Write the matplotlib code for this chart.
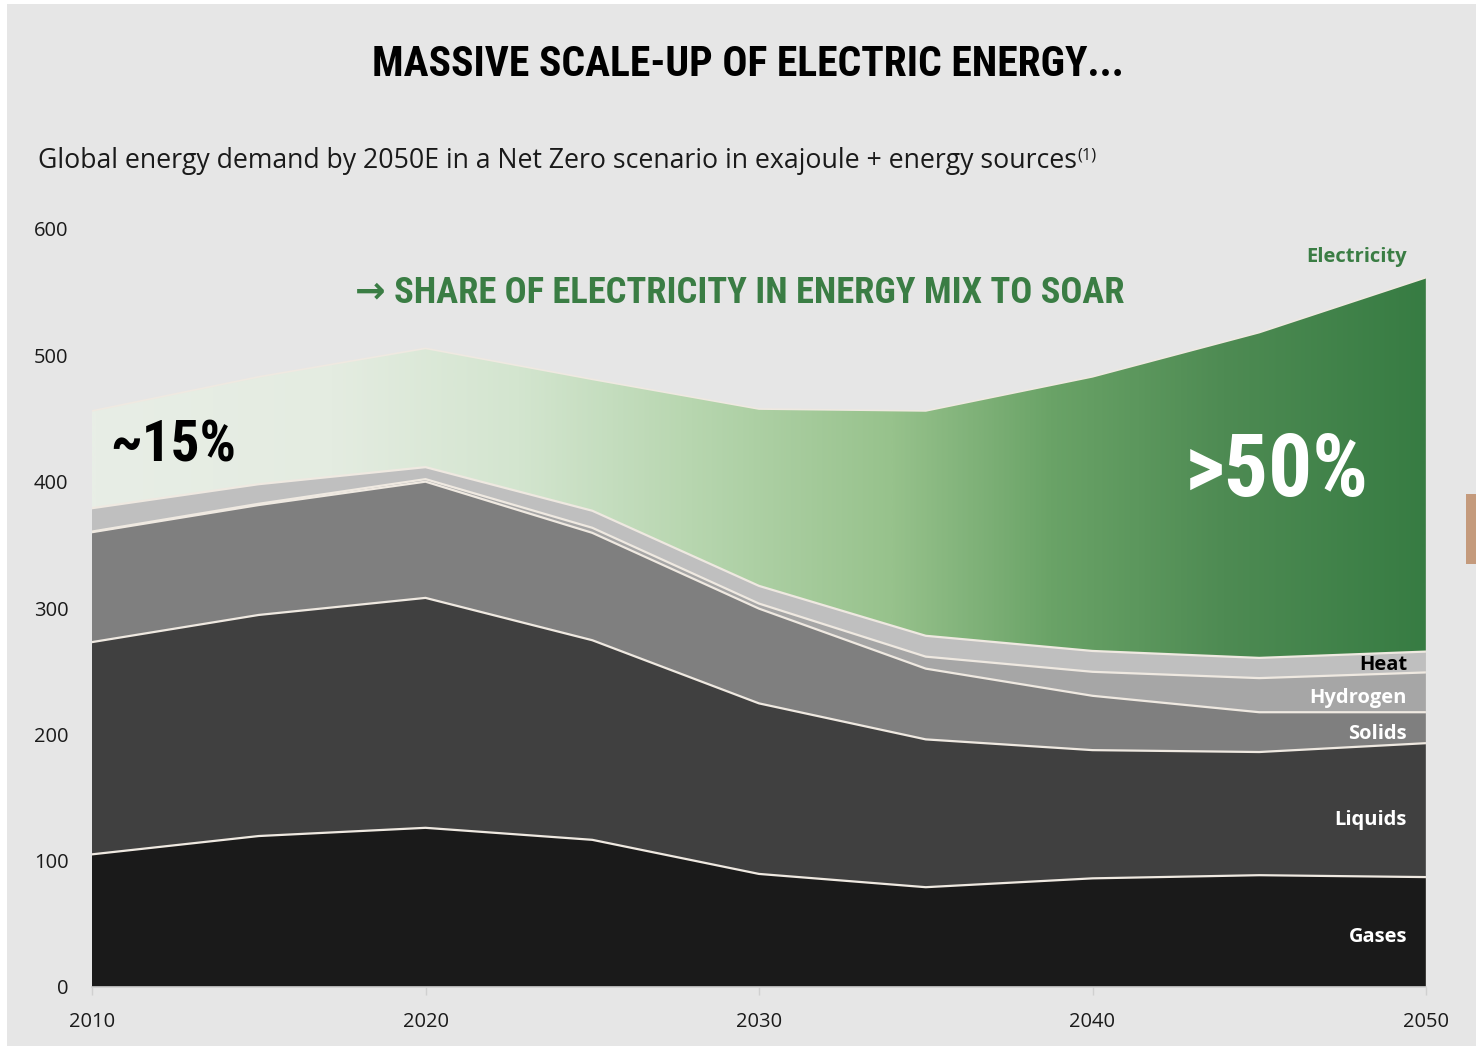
import numpy as np
import matplotlib
matplotlib.use("Agg")
import matplotlib.pyplot as plt
from matplotlib import font_manager as fm
from matplotlib.colors import LinearSegmentedColormap
from matplotlib.patches import Rectangle

# ---------------- data (exajoule) ----------------
years = [2010, 2015, 2020, 2025, 2030, 2035, 2040, 2045, 2050]
gases = [105, 119.5, 126, 116.5, 89.5, 79, 86, 88.5, 87]
liquids = [168, 175, 182, 158, 135, 117, 101.5, 97.5, 106]
solids = [87, 87, 92, 85, 75, 56, 43, 31.5, 24.5]
hydrogen = [0.5, 1, 2, 4, 4, 9.5, 19, 27, 31.5]
heat = [18.5, 15.5, 9.5, 13.5, 14, 16.5, 16.5, 16, 16.5]
electricity = [77, 85, 94, 104, 140, 178, 217, 257.5, 296]

series_names = ["Gases", "Liquids", "Solids", "Hydrogen", "Heat"]
series_values = [gases, liquids, solids, hydrogen, heat]
series_colors = ["#1a1a1a", "#404040", "#7f7f7f", "#a6a6a6", "#bfbfbf"]
label_colors = ["white", "white", "white", "white", "black"]

yticks = [0, 100, 200, 300, 400, 500, 600]
xticks = [2010, 2020, 2030, 2040, 2050]

title = "MASSIVE SCALE-UP OF ELECTRIC ENERGY..."
subtitle = "Global energy demand by 2050E in a Net Zero scenario in exajoule + energy sources"
headline = "\u2192 SHARE OF ELECTRICITY IN ENERGY MIX TO SOAR"

# ---------------- fonts ----------------
available = {f.name for f in fm.fontManager.ttflist}
def pick(cands, default="DejaVu Sans"):
    for c in cands:
        if c in available:
            return c
    return default

narrow = pick(["Liberation Sans Narrow", "DejaVu Sans Condensed", "Roboto Condensed", "Open Sans Condensed"], "DejaVu Sans")
body = pick(["Open Sans", "Noto Sans", "Lato", "DejaVu Sans"])

BG = "#e6e6e6"
GREEN = "#3a7d44"
SEP = "#efe9e1"

fig = plt.figure(figsize=(14.76, 10.49), dpi=100)
fig.patch.set_facecolor("white")
# light grey slide panel
fig.add_artist(Rectangle((7 / 1476, 1 - 1046 / 1049), (1476 - 7) / 1476, (1046 - 4) / 1049,
                         transform=fig.transFigure, facecolor=BG, edgecolor="none", zorder=0))
# copper side marker
fig.add_artist(Rectangle((1466 / 1476, 1 - 564 / 1049), 10 / 1476, 70 / 1049,
                         transform=fig.transFigure, facecolor="#c49a7c", edgecolor="none", zorder=1))

ax = fig.add_axes([92 / 1476, 1 - 987 / 1049, 1334 / 1476, 758 / 1049])
ax.set_facecolor("none")
ax.set_xlim(2010, 2050)
ax.set_ylim(0, 600)

x = np.array(years, dtype=float)
base = np.zeros_like(x)
tops = []
for name, vals, col in zip(series_names, series_values, series_colors):
    top = base + np.array(vals, dtype=float)
    ax.fill_between(x, base, top, facecolor=col, edgecolor="none", zorder=2)
    tops.append(top)
    base = top

# electricity area with horizontal gradient
elec_top = base + np.array(electricity, dtype=float)
poly = ax.fill_between(x, base, elec_top, facecolor="none", edgecolor="none", zorder=2)
cmap = LinearSegmentedColormap.from_list("elec", [
    (0.0, "#e8eee6"), (0.18, "#e4ece1"), (0.32, "#d3e5cf"), (0.45, "#b7d6af"),
    (0.6, "#97c28c"), (0.72, "#6aa367"), (0.85, "#4e8b53"), (1.0, "#377c43")])
grad = np.linspace(0, 1, 512).reshape(1, -1)
im = ax.imshow(grad, cmap=cmap, aspect="auto", extent=(2010, 2050, 0, 600),
               origin="lower", zorder=2, interpolation="bilinear")
im.set_clip_path(poly.get_paths()[0], transform=ax.transData)

# separator lines
for top in tops:
    ax.plot(x, top, color=SEP, lw=1.6, zorder=3, solid_joinstyle="miter")
ax.plot(x, elec_top, color=SEP, lw=1.2, zorder=3)
ax.plot([2050, 2050], [0, elec_top[-1]], color="#d8d2cc", lw=1.0, zorder=3)

# axes styling
for s in ["top", "right", "left"]:
    ax.spines[s].set_visible(False)
ax.spines["bottom"].set_color("#d0d0d0")
ax.spines["bottom"].set_linewidth(1.2)
ax.spines["bottom"].set_zorder(4)
ax.set_xticks(xticks)
ax.set_yticks(yticks)
ax.tick_params(axis="x", length=5.5, width=1.0, color="#d0d0d0", pad=12.5, labelsize=14.5, labelcolor="#1a1a1a")
ax.tick_params(axis="y", length=0, pad=17, labelsize=14.5, labelcolor="#1a1a1a")
for lab in ax.get_xticklabels() + ax.get_yticklabels():
    lab.set_fontfamily(body)

# series labels at right edge
label_y = [937, 820, 734, 698, 665]
for name, col, py in zip(series_names, label_colors, label_y):
    fig.text(1407 / 1476, 1 - py / 1049, name, ha="right", va="center",
             fontsize=14.5, fontweight="bold", color=col, family=body, zorder=5)
fig.text(1407 / 1476, 1 - 257 / 1049, "Electricity", ha="right", va="center",
         fontsize=14.5, fontweight="bold", color=GREEN, family=body, zorder=5)

# big percentages
fig.text(110 / 1476, 1 - 446 / 1049, "~15%", ha="left", va="center", fontsize=41,
         fontweight="bold", color="black", family=narrow, zorder=5)
fig.text(1185 / 1476, 1 - 472 / 1049, ">50%", ha="left", va="center", fontsize=63,
         fontweight="bold", color="white", family=narrow, zorder=5)

# headline
fig.text(740 / 1476, 1 - 293 / 1049, headline, ha="center", va="center", fontsize=26.3,
         fontweight="bold", color=GREEN, family=[narrow, "DejaVu Sans"], zorder=5)

# title and subtitle
fig.text(748 / 1476, 1 - 64 / 1049, title, ha="center", va="center", fontsize=30,
         fontweight="bold", color="black", family=narrow, zorder=5)
st = fig.text(38 / 1476, 1 - 161 / 1049, subtitle, ha="left", va="center", fontsize=19.2,
              color="#1a1a1a", family=body, zorder=5)
ax.annotate("(1)", xy=(1, 1), xycoords=st, xytext=(0.5, 0), textcoords="offset points",
            ha="left", va="top", fontsize=12, color="#1a1a1a", family=body,
            annotation_clip=False)

fig.savefig("out.png", dpi=100, facecolor=fig.get_facecolor())
